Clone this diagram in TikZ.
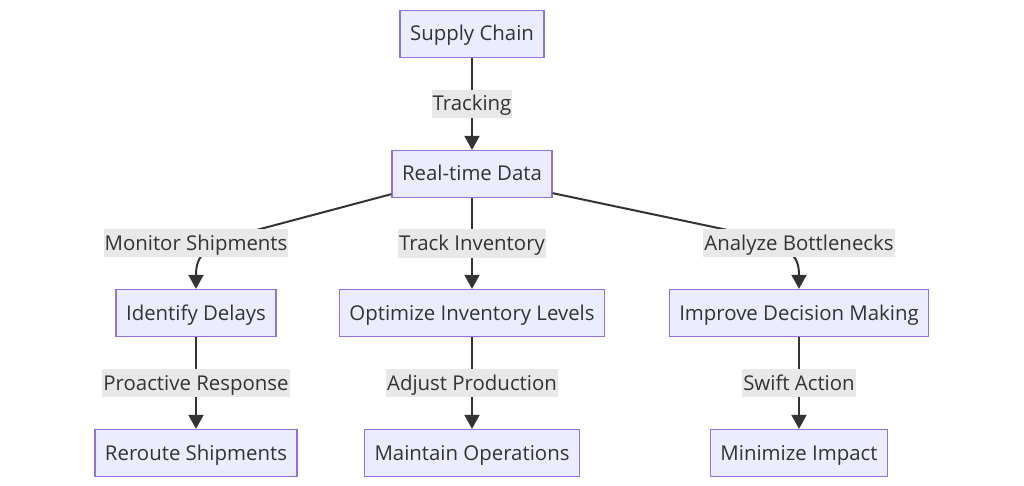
\documentclass[tikz,border=0pt]{standalone}
\usepackage{fontspec}
\setmainfont{Open Sans}
\usepackage{tikz}
\usetikzlibrary{arrows.meta}
\definecolor{boitefond}{HTML}{ECECFF}
\definecolor{boitebord}{HTML}{9370DB}
\definecolor{encre}{HTML}{333333}
\definecolor{etiqfond}{HTML}{E8E8E8}
\tikzset{
Boite/.style={
 draw=boitebord, 
 fill=boitefond, 
 line width=1.3pt, 
 text=encre, 
 minimum height=47pt, 
 inner xsep=10pt, 
 text height=17pt, 
 text depth=3pt, 
 font=\fontsize{20.4}{24}\selectfont
 },
Etiquette/.style={
 fill=etiqfond, 
 text=encre, 
 minimum height=28pt, 
 inner xsep=1pt, 
 inner ysep=0pt, 
 text height=17pt, 
 text depth=3pt, 
 font=\fontsize{20.4}{24}\selectfont
 },
Fleche/.style={
 draw=encre, 
 line width=2pt, 
 -{Triangle[length=14pt,width=15pt]}
 }
}
\begin{document}
\begin{tikzpicture}[x=1pt,y=-1pt]
\useasboundingbox (0,0) rectangle (1024,486);
\node[Boite] (sc) at (472,34) {Supply Chain};
\node[Boite] (rt) at (472,174) {Real-time Data};
\node[Boite] (id) at (196,313) {Identify Delays};
\node[Boite] (oil) at (472,313) {Optimize Inventory Levels};
\node[Boite] (idm) at (799,313) {Improve Decision Making};
\node[Boite] (rs) at (196,453) {Reroute Shipments};
\node[Boite] (mo) at (472,453) {Maintain Operations};
\node[Boite] (mi) at (799,453) {Minimize Impact};
\draw[Fleche] (sc) -- node[Etiquette] (tr) {Tracking} (rt);
\draw[Fleche] ([yshift=4pt]rt.south west) -- (249,232) .. controls (205,245) and (196,255) .. (id.north);
\draw[Fleche] (rt) -- node[Etiquette] (ti) {Track Inventory} (oil);
\draw[Fleche] ([yshift=5pt]rt.south east) -- (737,232) .. controls (790,244) and (799,255) .. (idm.north);
\node[Etiquette] (ms) at (196,243) {Monitor Shipments};
\node[Etiquette] (ab) at (799,243) {Analyze Bottlenecks};
\draw[Fleche] (id) -- node[Etiquette] (pr) {Proactive Response} (rs);
\draw[Fleche] (oil) -- node[Etiquette] (ap) {Adjust Production} (mo);
\draw[Fleche] (idm) -- node[Etiquette] (sa) {Swift Action} (mi);
\end{tikzpicture}
\end{document}
